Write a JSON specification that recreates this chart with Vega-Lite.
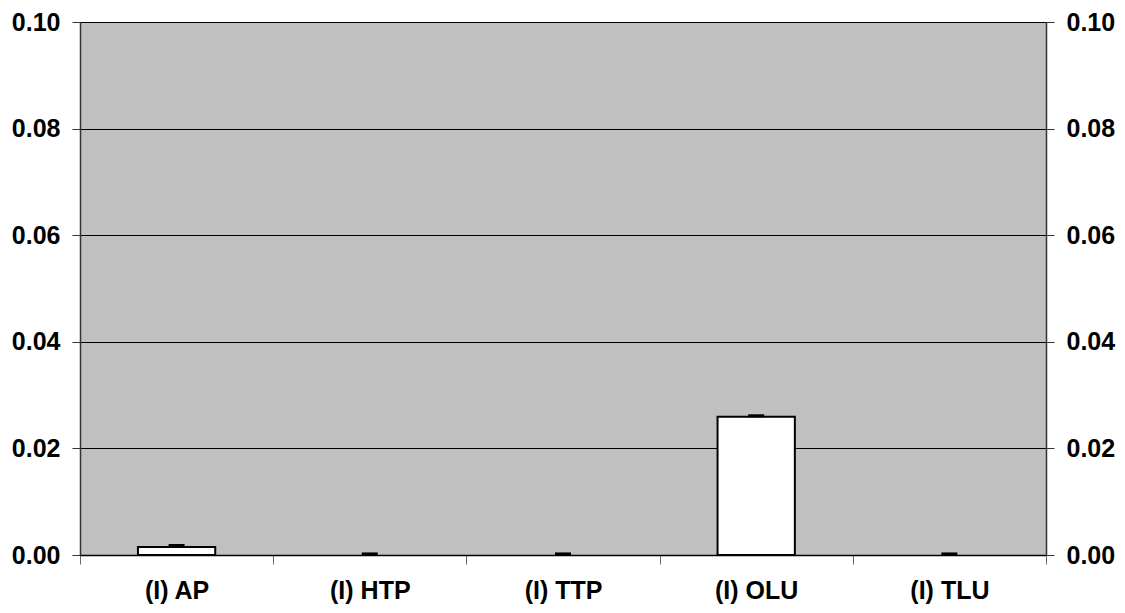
{
  "$schema": "https://vega.github.io/schema/vega-lite/v6.json",
  "width": 966,
  "height": 533,
  "autosize": {"type": "none"},
  "padding": {"left": 80, "top": 22, "right": 79, "bottom": 58},
  "background": "white",
  "config": {
    "view": {"fill": "#C0C0C0", "stroke": null},
    "axis": {"labelFont": "Liberation Sans", "labelFontWeight": "bold", "labelFontSize": 25, "labelColor": "black"}
  },
  "data": {"values": [
    {"cat": "(I) AP", "value": 0.0015, "hi": 0.00178},
    {"cat": "(I) HTP", "value": 0.0, "hi": 0.0002},
    {"cat": "(I) TTP", "value": 0.0, "hi": 0.0002},
    {"cat": "(I) OLU", "value": 0.02595, "hi": 0.02612},
    {"cat": "(I) TLU", "value": 0.0, "hi": 0.0002}
  ]},
  "encoding": {
    "x": {
      "field": "cat", "type": "nominal", "sort": null,
      "scale": {"domain": ["(I) AP", "(I) HTP", "(I) TTP", "(I) OLU", "(I) TLU"], "paddingInner": 0, "paddingOuter": 0},
      "axis": {"title": null, "labelAngle": 0, "tickBand": "extent", "tickSize": 9, "tickColor": "#666666", "domainColor": "black", "domainWidth": 1.5, "labelPadding": 14, "grid": false}
    }
  },
  "layer": [
    {
      "transform": [{"filter": "datum.value > 0"}],
      "mark": {"type": "bar", "fill": "white", "stroke": "black", "strokeWidth": 2, "width": {"band": 0.4}},
      "encoding": {
        "y": {
          "field": "value", "type": "quantitative",
          "scale": {"domain": [0, 0.1], "nice": false},
          "axis": {"title": null, "orient": "left", "values": [0, 0.02, 0.04, 0.06, 0.08, 0.1], "format": ".2f", "grid": true, "gridColor": "black", "gridWidth": 1, "gridOpacity": 1, "domainColor": "#333333", "domainWidth": 1.5, "tickColor": "#333333", "tickSize": 8, "labelPadding": 12}
        }
      }
    },
    {
      "mark": {"type": "tick", "color": "black", "opacity": 1, "size": 16, "thickness": 3, "orient": "horizontal"},
      "encoding": {
        "y": {
          "field": "hi", "type": "quantitative",
          "scale": {"domain": [0, 0.1], "nice": false},
          "axis": {"title": null, "orient": "right", "values": [0, 0.02, 0.04, 0.06, 0.08, 0.1], "format": ".2f", "grid": false, "domainColor": "#333333", "domainWidth": 1.5, "tickColor": "#333333", "tickSize": 8, "labelPadding": 12}
        }
      }
    }
  ],
  "resolve": {"axis": {"y": "independent"}}
}
